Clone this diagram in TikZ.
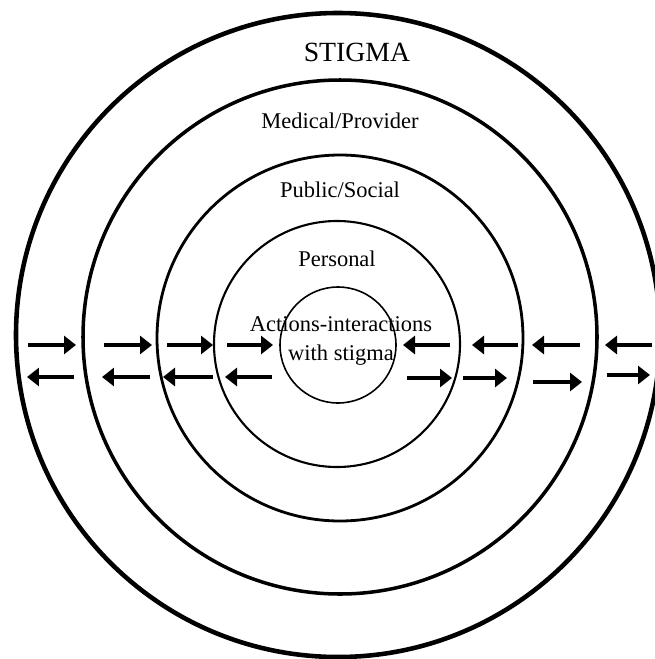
\documentclass[tikz,border=0pt]{standalone}
\usepackage{fontspec}
\setmainfont{Liberation Serif}
\usetikzlibrary{arrows.meta}

\tikzset{
    ring/.style={draw=black},
    ringtext/.style={anchor=base, inner sep=0pt, font=\fontsize{12.8}{15}\selectfont},
    flow/.style={line width=2.8pt, -{Triangle[length=0.24cm,width=0.36cm]}}
}

\begin{document}
\begin{tikzpicture}[x=0.02cm, y=-0.02cm]
\useasboundingbox (0,0) rectangle (655,659);

% rings, outside to inside
\draw [ring, line width=2.6pt] (338,335) circle [radius=322];
\draw [ring, line width=2pt] (340,337) circle [radius=257];
\draw [ring, line width=1.6pt] (340,338) circle [radius=183];
\draw [ring, line width=1.2pt] (337,344) circle [radius=123];
\draw [ring, line width=0.9pt] (338,345) circle [radius=58];

% labels
\node (stigma) [ringtext, font=\fontsize{15.8}{18}\selectfont] at (357,61) {STIGMA};
\node (medical) [ringtext] at (340,128) {Medical/Provider};
\node (public) [ringtext] at (340,197) {Public/Social};
\node (personal) [ringtext] at (337,266) {Personal};
\node (actions) [ringtext] at (341,331) {Actions-interactions};
\node (withstigma) [ringtext] at (341,360) {with stigma};

% inward arrows
\foreach \n/\xa/\ya/\xb/\yb in {a/28/345/76/345, b/104/345/152/345,
    c/167/345/213/345, d/227/345/273/345,
    e/652/345/605/345, f/580/345/532/345,
    g/518/345/472/345, h/450/345/403/345} {
    \coordinate (in\n s) at (\xa,\ya);
    \coordinate (in\n e) at (\xb,\yb);
    \draw [flow] (in\n s) -- (in\n e);
}

% outward arrows
\foreach \n/\xa/\ya/\xb/\yb in {a/272/377/225/377, b/213/377/163/377,
    c/150/377/102/377, d/74/377/27/377,
    e/407/378/452/378, f/463/378/507/378,
    g/533/382/582/382, h/607/375/650/375} {
    \coordinate (out\n s) at (\xa,\ya);
    \coordinate (out\n e) at (\xb,\yb);
    \draw [flow] (out\n s) -- (out\n e);
}

\end{tikzpicture}
\end{document}
